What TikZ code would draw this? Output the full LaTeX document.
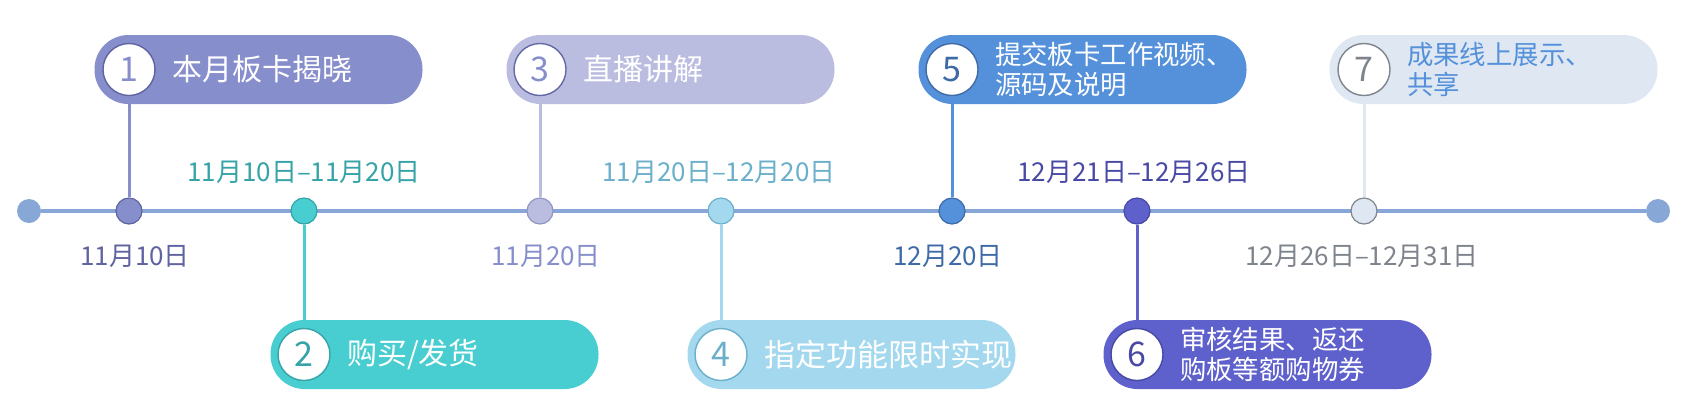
\documentclass[tikz,border=0pt]{standalone}
\usepackage{fontspec}
\setmainfont{Noto Sans CJK SC}
\usetikzlibrary{positioning}
\definecolor{axis}{HTML}{87A7D7}
\definecolor{one}{HTML}{878ECC}
\definecolor{oneD}{HTML}{5F639F}
\definecolor{two}{HTML}{48CDD0}
\definecolor{twoD}{HTML}{35A3A7}
\definecolor{three}{HTML}{BABCE0}
\definecolor{threeD}{HTML}{6468A6}
\definecolor{four}{HTML}{A3D8EE}
\definecolor{fourD}{HTML}{6BAFCB}
\definecolor{five}{HTML}{5591DA}
\definecolor{fiveD}{HTML}{3E6BA6}
\definecolor{six}{HTML}{5E60CB}
\definecolor{sixD}{HTML}{4849A4}
\definecolor{seven}{HTML}{DEE7F2}
\definecolor{sevenD}{HTML}{7E848C}

\begin{document}
\begin{tikzpicture}[x=0.5pt,y=-0.5pt,
  enddot/.style={circle,fill=axis,minimum size=12pt,inner sep=0pt},
  dot/.style={circle,line width=0.6pt,minimum size=13pt,inner sep=0pt},
  pill/.style={rounded corners=17pt,minimum width=164pt,minimum height=34.5pt,inner sep=0pt},
  num/.style={circle,fill=white,line width=0.7pt,minimum size=26pt,inner sep=0pt,font=\fontsize{17}{17}\selectfont},
  lbl/.style={inner sep=0pt,text=white,font=\fontsize{15}{15}\selectfont},
  lbltwo/.style={inner sep=0pt,align=left,text=white,font=\fontsize{13.2}{14.8}\selectfont},
  date/.style={inner sep=0pt,font=\fontsize{13}{13}\selectfont},
  stem/.style={line width=1.5pt}
]
\useasboundingbox (0,0) rectangle (1682,404);

\node[enddot] (L) at (29,211) {};
\node[enddot] (R) at (1658,211) {};
\draw[axis,line width=2.2pt] (L) -- (R);

\node[dot,fill=one,draw=oneD] (d1) at (129,211) {};
\node[dot,fill=two,draw=twoD] (d2) at (304,211) {};
\node[dot,fill=three,draw=threeD!70] (d3) at (540,211) {};
\node[dot,fill=four,draw=fourD] (d4) at (721,211) {};
\node[dot,fill=five,draw=fiveD] (d5) at (952,211) {};
\node[dot,fill=six,draw=sixD] (d6) at (1137,211) {};
\node[dot,fill=seven,draw=sevenD] (d7) at (1364,211) {};

\node[date,text=oneD] (t1) at (135,256) {11月10日};
\node[date,text=twoD] (t2) at (304,172) {11月10日–11月20日};
\node[date,text=one] (t3) at (546,256) {11月20日};
\node[date,text=fourD] (t4) at (719,172) {11月20日–12月20日};
\node[date,text=fiveD] (t5) at (948,256) {12月20日};
\node[date,text=sixD] (t6) at (1134,172) {12月21日–12月26日};
\node[date,text=sevenD] (t7) at (1362,256) {12月26日–12月31日};

\node[pill,fill=one] (b1) at (258.5,69.5) {};
\node[num,draw=oneD,text=one] (n1) at (129,69.5) {1};
\node[lbl,right=8pt of n1] (l1) {本月板卡揭晓};

\node[pill,fill=two] (b2) at (434.5,354.5) {};
\node[num,draw=twoD,text=twoD] (n2) at (304,354.5) {2};
\node[lbl,right=8pt of n2] (l2) {购买/发货};

\node[pill,fill=three] (b3) at (670.5,69.5) {};
\node[num,draw=threeD,text=one] (n3) at (540,69.5) {3};
\node[lbl,right=8pt of n3] (l3) {直播讲解};

\node[pill,fill=four] (b4) at (851.5,354.5) {};
\node[num,draw=fourD,text=fourD] (n4) at (721,354.5) {4};
\node[lbl,right=8pt of n4,font=\fontsize{15.5}{15.5}\selectfont] (l4) {指定功能限时实现};

\node[pill,fill=five] (b5) at (1082.5,69.5) {};
\node[num,draw=fiveD,text=fiveD] (n5) at (952,69.5) {5};
\node[lbltwo,right=8pt of n5] (l5) {提交板卡工作视频、\\源码及说明};

\node[pill,fill=six] (b6) at (1267.5,354.5) {};
\node[num,draw=sixD,text=sixD] (n6) at (1137,354.5) {6};
\node[lbltwo,right=8pt of n6] (l6) {审核结果、返还\\购板等额购物券};

\node[pill,fill=seven] (b7) at (1493.5,69.5) {};
\node[num,draw=sevenD,text=sevenD] (n7) at (1364,69.5) {7};
\node[lbltwo,right=8pt of n7,text=five] (l7) {成果线上展示、\\共享};

\draw[stem,one] (d1) -- (b1.south -| d1);
\draw[stem,two] (d2) -- (b2.north -| d2);
\draw[stem,three] (d3) -- (b3.south -| d3);
\draw[stem,four] (d4) -- (b4.north -| d4);
\draw[stem,five] (d5) -- (b5.south -| d5);
\draw[stem,six] (d6) -- (b6.north -| d6);
\draw[stem,seven] (d7) -- (b7.south -| d7);
\end{tikzpicture}
\end{document}
